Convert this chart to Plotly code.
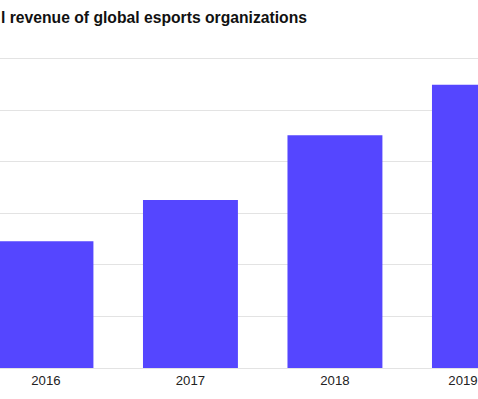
import plotly.graph_objects as go

title_text = "l revenue of global esports organizations"
years = ["2016", "2017", "2018", "2019"]
positions = [0, 1, 2, 3]
revenue = [123, 163, 226, 275]
tick_positions = [0, 1, 2, 2.886]
tick_labels = ["2016", "2017", "2018", "2019"]

fig = go.Figure(
    go.Bar(
        x=positions,
        y=revenue,
        width=0.657,
        marker=dict(color="#5546ff", line=dict(width=0)),
        hoverinfo="skip",
    )
)

fig.update_layout(
    width=478,
    height=399,
    margin=dict(l=0, r=0, t=50, b=31, pad=0),
    paper_bgcolor="white",
    plot_bgcolor="white",
    showlegend=False,
    font=dict(family="Liberation Sans, Arial, sans-serif", color="#222222"),
    annotations=[
        dict(
            text="<b>" + title_text + "</b>",
            xref="paper", yref="paper",
            x=0, y=1, xanchor="left", yanchor="bottom",
            xshift=-1,
            yshift=22,
            showarrow=False,
            font=dict(size=15.7, color="#111111",
                      family="Liberation Sans, Arial, sans-serif"),
        )
    ],
)

fig.update_xaxes(
    range=[-0.318, 2.99],
    tickmode="array",
    tickvals=tick_positions,
    ticktext=tick_labels,
    showgrid=False,
    showline=False,
    zeroline=False,
    ticks="",
    ticklabelstandoff=3,
    tickfont=dict(size=13.2, color="#222222"),
)

fig.update_yaxes(
    range=[0, 308.7],
    tickmode="array",
    tickvals=[0, 50, 100, 150, 200, 250, 300],
    showgrid=True,
    gridcolor="#e3e3e3",
    gridwidth=1,
    zeroline=True,
    zerolinecolor="#e3e3e3",
    zerolinewidth=1,
    showticklabels=False,
    ticks="",
    showline=False,
)

fig.write_html("out.html", config={"displayModeBar": False, "staticPlot": True})

with open("out.html", "r", encoding="utf-8") as f:
    html = f.read()
html = html.replace("<body>", '<body style="margin:0;padding:0;overflow:hidden">', 1)
with open("out.html", "w", encoding="utf-8") as f:
    f.write(html)
